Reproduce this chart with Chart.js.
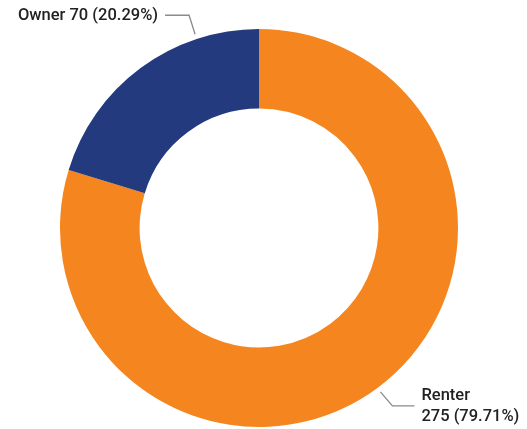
<!DOCTYPE html>
<html>
<head>
<meta charset="utf-8">
<script src="https://cdn.jsdelivr.net/npm/chart.js@4"></script>
<style>
  html, body { margin: 0; padding: 0; background: #fff; }
  #wrap { width: 527px; height: 429px; }
</style>
</head>
<body>
<div id="wrap"><canvas id="grafico" width="527" height="429"></canvas></div>
<script>
// datos del grafico
const categorias = ['Renter', 'Owner'];
const valores = [275, 70];
const porcentajes = ['79.71%', '20.29%'];
const colores = ['#F5861F', '#233B7E'];

// donde va la linea guia de cada etiqueta (fraccion del arco, codo, texto)
const guias = [
    { frac: 0.5, dx: 12, dy: 14, largo: 22, lado: 1, lineas: ['Renter', '275 (79.71%)'] },
    { frac: 0.75, dx: -6, dy: -19, largo: 24, lado: -1, lineas: ['Owner 70 (20.29%)'] }
];

const etiquetasGuia = {
    id: 'etiquetasGuia',
    afterDatasetsDraw(chart) {
        const ctx = chart.ctx;
        const arcos = chart.getDatasetMeta(0).data;
        ctx.save();
        ctx.font = '500 16.5px Roboto, "Noto Sans", sans-serif';
        ctx.fillStyle = '#222';
        ctx.strokeStyle = '#8a8a8a';
        ctx.lineWidth = 1.3;
        arcos.forEach((arco, i) => {
            const g = guias[i];
            const a = arco.startAngle + (arco.endAngle - arco.startAngle) * g.frac;
            const r = arco.outerRadius + 5;
            const x0 = arco.x + Math.cos(a) * r;
            const y0 = arco.y + Math.sin(a) * r;
            const x1 = x0 + g.dx;
            const y1 = y0 + g.dy;
            const x2 = x1 + g.lado * g.largo;
            ctx.beginPath();
            ctx.moveTo(x0, y0);
            ctx.lineTo(x1, y1);
            ctx.lineTo(x2, y1);
            ctx.stroke();
            ctx.textBaseline = 'middle';
            ctx.textAlign = g.lado > 0 ? 'left' : 'right';
            const tx = x2 + g.lado * 7;
            if (g.lineas.length === 1) {
                ctx.fillText(g.lineas[0], tx, y1 + 1);
            } else {
                ctx.fillText(g.lineas[0], tx, y1 - 10);
                ctx.fillText(g.lineas[1], tx, y1 + 11);
            }
        });
        ctx.restore();
    }
};

new Chart(document.getElementById('grafico'), {
    type: 'doughnut',
    data: {
        labels: categorias,
        datasets: [{
            data: valores,
            backgroundColor: colores,
            borderWidth: 0
        }]
    },
    options: {
        responsive: false,
        animation: false,
        cutout: '60%',
        layout: { padding: { top: 29, bottom: 2, left: 60, right: 69 } },
        plugins: {
            legend: { display: false },
            tooltip: { enabled: false }
        }
    },
    plugins: [etiquetasGuia]
});
</script>
</body>
</html>
